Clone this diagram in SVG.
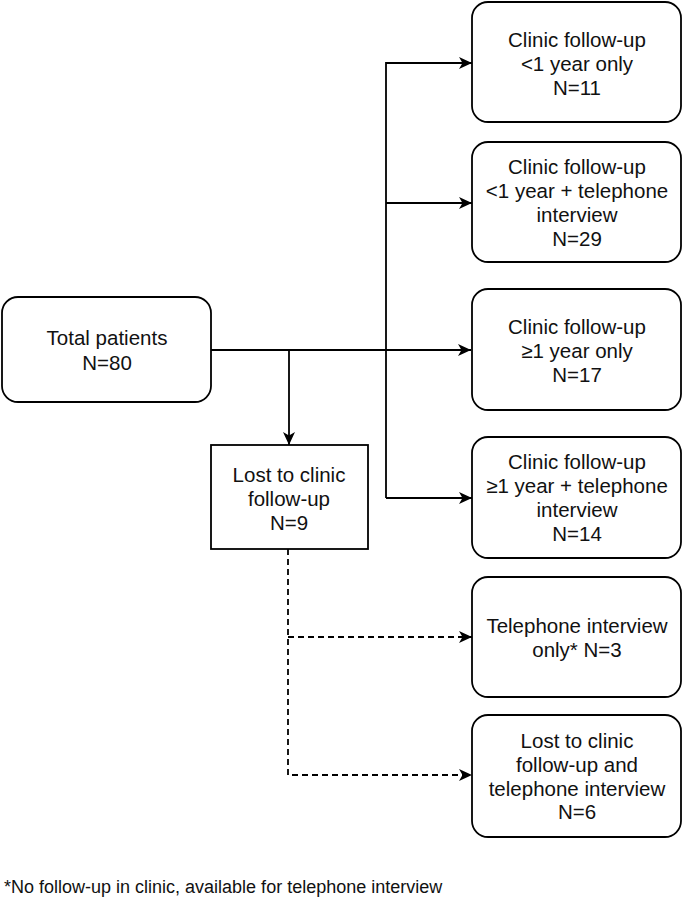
<svg xmlns="http://www.w3.org/2000/svg" width="685" height="902" viewBox="0 0 685 902">
<style>
.box{fill:#fff;stroke:#000;stroke-width:1.8}
.t{font-family:"Liberation Sans",Arial,sans-serif;font-size:20.5px;fill:#111;text-anchor:middle}
.c{fill:none;stroke:#000;stroke-width:1.8}
.d{fill:none;stroke:#000;stroke-width:1.8;stroke-dasharray:6 4}
</style>
<defs>
<marker id="ah" markerWidth="14" markerHeight="12" refX="13" refY="6" orient="auto" markerUnits="userSpaceOnUse">
<path d="M0,0 L13,6 L0,12 L3.5,6 Z" fill="#000"/>
</marker>
</defs>
<rect width="685" height="902" fill="#fff"/>
<g id="connectors">
<path class="c" d="M211,350 H471" marker-end="url(#ah)"/>
<path class="c" d="M289,350 V445" marker-end="url(#ah)"/>
<path class="c" d="M386,498 V63 H472" marker-end="url(#ah)"/>
<path class="c" d="M386,203 H472" marker-end="url(#ah)"/>
<path class="c" d="M386,498 H472" marker-end="url(#ah)"/>
<path class="d" d="M288,549 V775 H472" marker-end="url(#ah)"/>
<path class="d" d="M288,637 H472" marker-end="url(#ah)"/>
</g>
<g id="total">
<rect class="box" x="2" y="297" width="209" height="105" rx="16"/>
<text class="t" x="107" y="345">Total patients</text>
<text class="t" x="107" y="370">N=80</text>
</g>
<g id="lost">
<rect class="box" x="211" y="445" width="157" height="104"/>
<text class="t" x="289" y="482">Lost to clinic</text>
<text class="t" x="289" y="506">follow-up</text>
<text class="t" x="289" y="530">N=9</text>
</g>
<g id="b1">
<rect class="box" x="472" y="2" width="209" height="120" rx="16"/>
<text class="t" x="577" y="47">Clinic follow-up</text>
<text class="t" x="577" y="71">&lt;1 year only</text>
<text class="t" x="577" y="95">N=11</text>
</g>
<g id="b2">
<rect class="box" x="472" y="142" width="209" height="120" rx="16"/>
<text class="t" x="577" y="174">Clinic follow-up</text>
<text class="t" x="577" y="198">&lt;1 year + telephone</text>
<text class="t" x="577" y="222">interview</text>
<text class="t" x="577" y="246">N=29</text>
</g>
<g id="b3">
<rect class="box" x="472" y="289" width="209" height="121" rx="16"/>
<text class="t" x="577" y="334">Clinic follow-up</text>
<text class="t" x="577" y="358">≥1 year only</text>
<text class="t" x="577" y="382">N=17</text>
</g>
<g id="b4">
<rect class="box" x="472" y="437" width="209" height="121" rx="16"/>
<text class="t" x="577" y="469">Clinic follow-up</text>
<text class="t" x="577" y="493">≥1 year + telephone</text>
<text class="t" x="577" y="517">interview</text>
<text class="t" x="577" y="541">N=14</text>
</g>
<g id="b5">
<rect class="box" x="472" y="577" width="209" height="120" rx="16"/>
<text class="t" x="577" y="633">Telephone interview</text>
<text class="t" x="577" y="657">only* N=3</text>
</g>
<g id="b6">
<rect class="box" x="472" y="715" width="209" height="122" rx="16"/>
<text class="t" x="577" y="748">Lost to clinic</text>
<text class="t" x="577" y="772">follow-up and</text>
<text class="t" x="577" y="796">telephone interview</text>
<text class="t" x="577" y="819">N=6</text>
</g>
<text id="footnote" x="4" y="893" style="font-family:'Liberation Sans',Arial,sans-serif;font-size:18px;fill:#111">*No follow-up in clinic, available for telephone interview</text>
</svg>
